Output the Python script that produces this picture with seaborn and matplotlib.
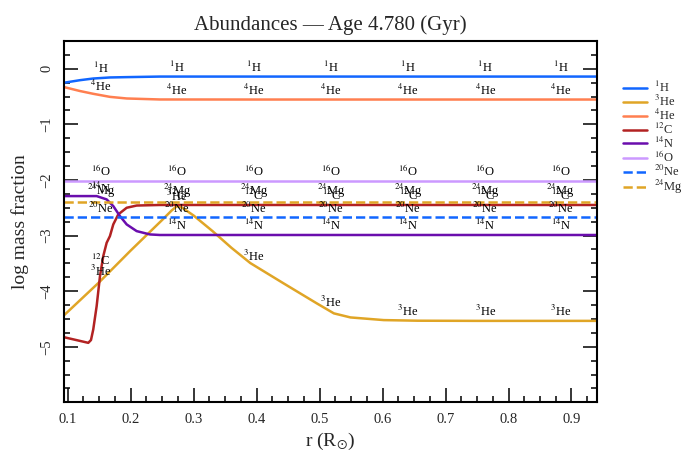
import numpy as np
import pandas as pd
import matplotlib
matplotlib.use("Agg")
import matplotlib.pyplot as plt
import seaborn as sns
from matplotlib.ticker import MultipleLocator

# ---------------- data ----------------
r_h1 = [0.0946, 0.1195, 0.1406, 0.1671, 0.1937, 0.2465, 0.40, 0.60, 0.80, 0.94]
v_h1 = [-0.25, -0.205, -0.175, -0.156, -0.150, -0.140, -0.140, -0.140, -0.140, -0.140]

r_he4 = [0.0946, 0.1195, 0.1406, 0.1671, 0.1937, 0.2465, 0.40, 0.60, 0.80, 0.94]
v_he4 = [-0.33, -0.40, -0.45, -0.505, -0.534, -0.552, -0.553, -0.553, -0.553, -0.553]

r_he3 = [0.0946, 0.15, 0.20, 0.25, 0.265, 0.2735, 0.282, 0.30, 0.33, 0.36, 0.39,
         0.4425, 0.4957, 0.5227, 0.549, 0.602, 0.6557, 0.75, 0.94]
v_he3 = [-4.43, -3.84, -3.27, -2.72, -2.55, -2.47, -2.50, -2.64, -2.92, -3.22, -3.495,
         -3.858, -4.221, -4.40, -4.473, -4.521, -4.532, -4.535, -4.535]

r_c12 = [0.0946, 0.1327, 0.1370, 0.1406, 0.146, 0.1513, 0.1565, 0.1619, 0.1671,
         0.1724, 0.1803, 0.1937, 0.2095, 0.2465, 0.50, 0.94]
v_c12 = [-4.83, -4.93, -4.88, -4.69, -4.27, -3.73, -3.37, -3.13, -3.01,
         -2.80, -2.62, -2.50, -2.46, -2.45, -2.45, -2.45]

r_n14 = [0.0946, 0.146, 0.1619, 0.1724, 0.183, 0.1937, 0.2095, 0.2306, 0.2465, 0.50, 0.94]
v_n14 = [-2.29, -2.29, -2.35, -2.47, -2.65, -2.80, -2.92, -2.98, -2.99, -2.99, -2.99]

r_o16 = [0.0946, 0.94]
v_o16 = [-2.02, -2.02]

r_ne20 = [0.0946, 0.94]
v_ne20 = [-2.675, -2.675]

r_mg24 = [0.0946, 0.94]
v_mg24 = [-2.39, -2.39]

species = [r"$^{1}$H", r"$^{3}$He", r"$^{4}$He", r"$^{12}$C",
           r"$^{14}$N", r"$^{16}$O", r"$^{20}$Ne", r"$^{24}$Mg"]
radii = [r_h1, r_he3, r_he4, r_c12, r_n14, r_o16, r_ne20, r_mg24]
values = [v_h1, v_he3, v_he4, v_c12, v_n14, v_o16, v_ne20, v_mg24]

label_r = [0.1529, 0.2735, 0.3957, 0.5183, 0.6406, 0.7631, 0.8829]

colors = ["#1166ff", "#e0a526", "#ff7f50", "#b22222",
          "#6a0dad", "#cc99ff", "#1166ff", "#e0a526"]
styles = ["-", "-", "-", "-", "-", "-", "--", "--"]

# ---------------- style ----------------
sns.set_theme(style="ticks")
plt.rcParams["font.family"] = ["Liberation Serif", "DejaVu Serif"]
plt.rcParams["mathtext.fontset"] = "stix"

fig = plt.figure(figsize=(6.86, 4.53), dpi=100)
ax = fig.add_axes([0.0937, 0.1119, 0.7761, 0.7976])

for name, rs, vs, c, ls in zip(species, radii, values, colors, styles):
    df = pd.DataFrame({"r": rs, "v": vs})
    sns.lineplot(data=df, x="r", y="v", ax=ax, color=c, linestyle=ls,
                 linewidth=1.8, label=name, sort=False)

for name, rs, vs in zip(species, radii, values):
    for xr in label_r:
        ax.text(xr, np.interp(xr, rs, vs) + 0.03, name, ha="center", va="bottom",
                fontsize=9, color="black")

ax.set_xlim(0.0946, 0.94)
ax.set_ylim(-6, 0.5)
ax.xaxis.set_minor_locator(MultipleLocator(0.025))
ax.yaxis.set_minor_locator(MultipleLocator(0.25))
ax.set_xticks([0.1, 0.2, 0.3, 0.4, 0.5, 0.6, 0.7, 0.8, 0.9])
ax.set_xticklabels(["0.1", "0.2", "0.3", "0.4", "0.5", "0.6", "0.7", "0.8", "0.9"])
ax.set_yticks([0, -1, -2, -3, -4, -5])
ax.set_yticklabels(["0", "\u22121", "\u22122", "\u22123", "\u22124", "\u22125"])

ax.tick_params(which="both", direction="in", left=True, right=True,
               bottom=True, top=False, width=1.1, color="black")
ax.tick_params(which="major", length=10)
ax.tick_params(which="minor", length=4.5)
ax.tick_params(axis="x", labelsize=10.5, pad=8)
ax.tick_params(axis="y", labelsize=10.5, labelrotation=90, pad=8)
for lab in ax.get_yticklabels():
    lab.set_va("center")
for s in ax.spines.values():
    s.set_linewidth(1.5)
    s.set_color("black")

ax.set_xlabel(r"r (R$_{\odot}$)", fontsize=14, labelpad=3)
ax.set_ylabel("log mass fraction", fontsize=14, labelpad=8)
ax.set_title("Abundances \u2014 Age 4.780 (Gyr)", fontsize=15, pad=8)

ax.legend(loc="upper left", bbox_to_anchor=(1.04, 0.905), frameon=False,
          fontsize=9, labelspacing=-0.1, handlelength=1.9, handletextpad=0.55,
          borderaxespad=0)

fig.savefig("out.png", dpi=100)
